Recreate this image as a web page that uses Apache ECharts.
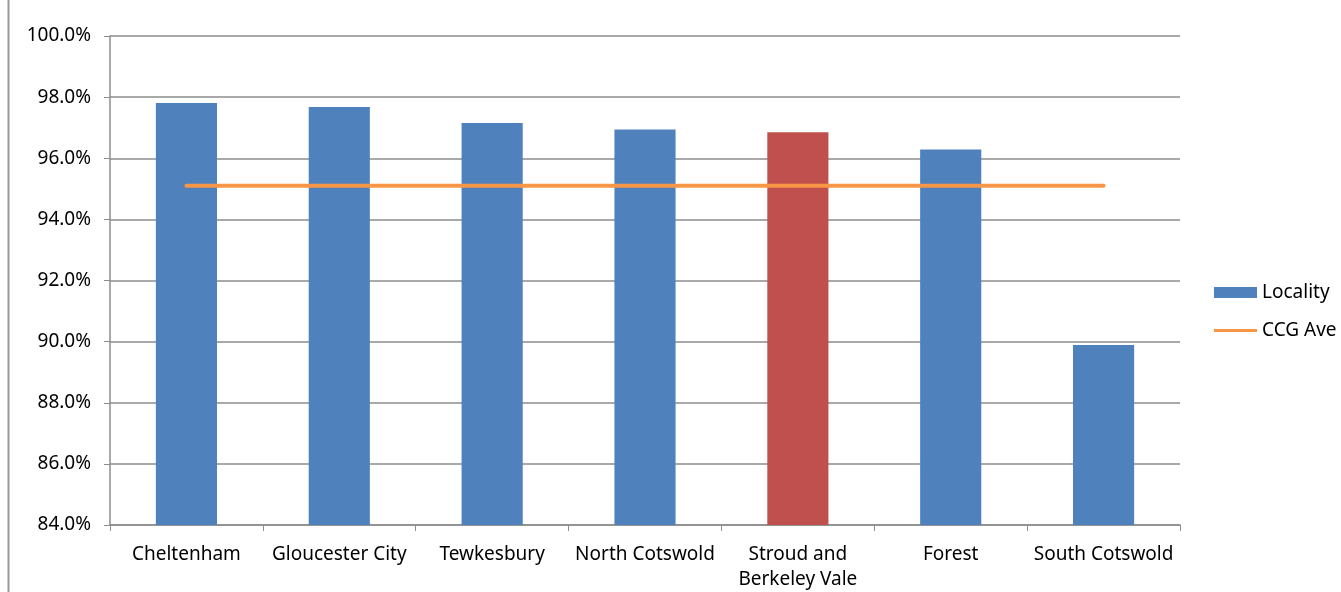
<!DOCTYPE html>
<html>
<head>
<meta charset="utf-8">
<script src="https://cdn.jsdelivr.net/npm/echarts@6/dist/echarts.min.js"></script>
<style>
html,body{margin:0;padding:0;background:#fff;}
#chart{width:1341px;height:592px;}
</style>
</head>
<body>
<div id="chart"></div>
<script>
const categories = ['Cheltenham', 'Gloucester City', 'Tewkesbury', 'North Cotswold', 'Stroud and\nBerkeley Vale', 'Forest', 'South Cotswold'];
const localityValues = [97.81, 97.68, 97.15, 96.94, 96.85, 96.29, 89.89];
const ccgAverage = [95.1, 95.1, 95.1, 95.1, 95.1, 95.1, 95.1];
const highlightIndex = 4;
const yTicks = { min: 84, max: 100, interval: 2 };

const blue = '#4F81BD';
const red = '#C0504D';
const orange = '#F79646';
const font = 'Noto Sans';

const chart = echarts.init(document.getElementById('chart'), null, { renderer: 'canvas' });
chart.setOption({
  animation: false,
  backgroundColor: '#fff',
  textStyle: { fontFamily: font },
  graphic: [{
    type: 'line',
    shape: { x1: 8.5, y1: 0, x2: 8.5, y2: 592 },
    style: { stroke: '#9a9a9a', lineWidth: 2 }
  }],
  grid: { left: 110, right: 161, top: 36, bottom: 67, containLabel: false, outerBoundsMode: 'none' },
  legend: {
    orient: 'vertical',
    left: 1209,
    top: 278,
    itemGap: 19,
    itemWidth: 43,
    itemHeight: 11,
    textStyle: { fontFamily: font, fontSize: 19, color: '#000', padding: [0, 0, 0, 0] },
    data: [
      { name: 'Locality', icon: 'rect', itemStyle: { color: blue } },
      { name: 'CCG Ave', icon: 'path://M0,4 L43,4 L43,7 L0,7 Z', itemStyle: { color: orange } }
    ]
  },
  xAxis: {
    type: 'category',
    data: categories,
    boundaryGap: true,
    axisLine: { lineStyle: { color: '#8c8c8c', width: 1.5 } },
    axisTick: { show: true, length: 6, interval: 0, lineStyle: { color: '#8c8c8c' } },
    axisLabel: { interval: 0, fontFamily: font, fontSize: 19, color: '#000', margin: 17, lineHeight: 25 }
  },
  yAxis: {
    type: 'value',
    min: yTicks.min,
    max: yTicks.max,
    interval: yTicks.interval,
    axisLine: { show: true, lineStyle: { color: '#8c8c8c', width: 1.5 } },
    axisTick: { show: true, length: 6, lineStyle: { color: '#8c8c8c' } },
    splitLine: { lineStyle: { color: '#8c8c8c', width: 1.5 } },
    axisLabel: { fontFamily: font, fontSize: 19, color: '#000', margin: 19,
      formatter: v => v.toFixed(1) + '%' }
  },
  series: [
    {
      name: 'Locality',
      type: 'bar',
      barWidth: '40%',
      data: localityValues.map((v, i) => ({
        value: v,
        itemStyle: { color: i === highlightIndex ? red : blue }
      })),
      itemStyle: { color: blue }
    },
    {
      name: 'CCG Ave',
      type: 'line',
      data: ccgAverage,
      symbol: 'none',
      lineStyle: { color: orange, width: 4, cap: 'round' },
      itemStyle: { color: orange }
    }
  ]
});
</script>
</body>
</html>
